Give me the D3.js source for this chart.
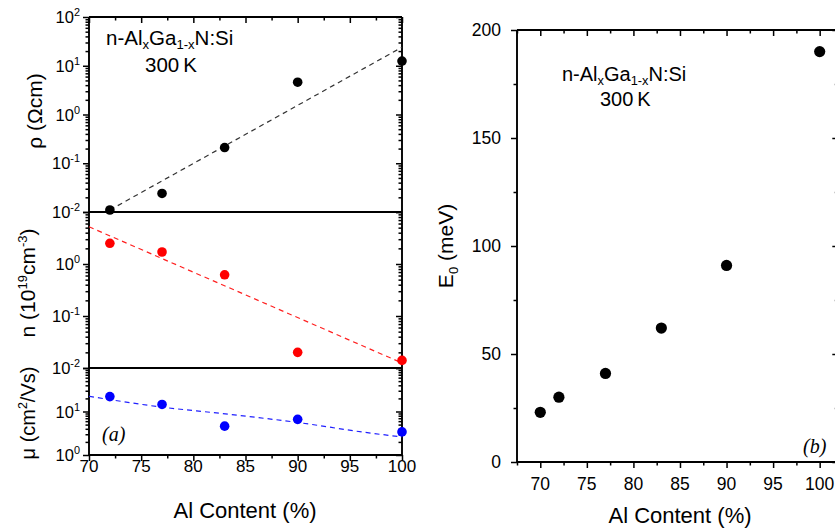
<!DOCTYPE html>
<html>
<head>
<meta charset="utf-8">
<script src="https://cdn.jsdelivr.net/npm/d3@7"></script>
<style>
  body { margin: 0; background: #fff; }
  svg { display: block; }
  text { font-family: Arial, "Liberation Sans", sans-serif; fill: #000; }
  .ital { font-family: "Liberation Serif", "Times New Roman", serif; font-style: italic; }
</style>
</head>
<body>
<svg id="chart" width="835" height="528"></svg>
<script>
// --- data ---
const alContent = [72, 77, 83, 90, 100];
const resistivity = [0.011, 0.024, 0.21, 4.6, 12.5];   // Ohm cm
const carrierConc = [2.5, 1.7, 0.62, 0.02, 0.014];     // 1e19 cm^-3
const mobility = [22, 14.5, 4.6, 6.6, 3.4];            // cm2/Vs

// fit lines (dashed)
const rhoFitX = [72, 100];
const rhoFitY = [0.011, 24];
const nFitX = [70, 100];
const nFitY = [5.2, 0.0125];
const muFitX = [70, 77, 82.5, 90, 96.5, 100];
const muFitY = [22.4, 12.6, 9.1, 5.6, 3.3, 2.6];

// panel (b)
const e0Al = [70, 72, 77, 83, 90, 100];
const e0 = [23, 30, 41, 62, 91, 190];                  // meV

// ticks
const xTicks = [70, 75, 80, 85, 90, 95, 100];
const rhoExp = [2, 1, 0, -1, -2];
const nExp = [0, -1, -2];
const muExp = [1, 0];
const e0Ticks = [0, 50, 100, 150, 200];

const svg = d3.select('#chart');

// draw tick marks only (no domain, no labels) with a d3 axis
function ticks(g, axisFn, scale, values, size, transform) {
  g.append('g')
    .attr('transform', transform)
    .call(axisFn(scale).tickValues(values).tickSize(size).tickFormat(''))
    .call((s) => s.select('.domain').remove())
    .selectAll('line')
    .attr('stroke', '#000')
    .attr('stroke-width', 1.5);
}

function logMinor(scale) {
  return scale.ticks().filter((v) => Math.abs(Math.log10(v) - Math.round(Math.log10(v))) > 1e-6);
}

function pow10Label(g, x, y, e, size) {
  const t = g.append('text')
    .attr('x', x)
    .attr('y', y)
    .attr('text-anchor', 'end')
    .style('font-size', size + 'px');
  t.append('tspan').text('10');
  t.append('tspan').attr('dy', -7).style('font-size', (size * 0.66) + 'px').text(e);
}

function frameLine(g, x1, y1, x2, y2) {
  g.append('line')
    .attr('x1', x1).attr('y1', y1).attr('x2', x2).attr('y2', y2)
    .attr('stroke', '#000').attr('stroke-width', 1.9);
}

// ================= panel (a) =================
const ga = svg.append('g');
const xa = d3.scaleLinear().domain([70, 100]).range([89, 402]);
const yRho = d3.scaleLog().domain([1e-2, 1e2]).range([212, 17]);
const yN = d3.scaleLog().domain([1e-2, 1e1]).range([368, 212]);
const yMu = d3.scaleLog().domain([1, 1e2]).range([455, 368]);

const xMinor = d3.range(70, 100.1, 2.5).filter((v) => !xTicks.includes(v));

// x ticks bottom (out) and top (in)
ticks(ga, d3.axisBottom, xa, xTicks, 6, 'translate(0,455)');
ticks(ga, d3.axisBottom, xa, xMinor, 3.5, 'translate(0,455)');
ticks(ga, d3.axisBottom, xa, xTicks, 6, 'translate(0,17)');
ticks(ga, d3.axisBottom, xa, xMinor, 3.5, 'translate(0,17)');

// y ticks for the three stacked log axes, left (out) and right (in)
[yRho, yN, yMu].forEach((sc) => {
  const major = sc.ticks().filter((v) => !logMinor(sc).includes(v));
  [89, 402].forEach((px) => {
    ticks(ga, d3.axisLeft, sc, major, 6, `translate(${px},0)`);
    ticks(ga, d3.axisLeft, sc, logMinor(sc), 3.5, `translate(${px},0)`);
  });
});

// frame + separators
frameLine(ga, 89, 17, 402, 17);
frameLine(ga, 89, 455, 402, 455);
frameLine(ga, 89, 17, 89, 455);
frameLine(ga, 402, 17, 402, 455);
frameLine(ga, 89, 212, 402, 212);
frameLine(ga, 89, 368, 402, 368);

// tick labels
xTicks.forEach((v) => {
  ga.append('text').attr('x', xa(v)).attr('y', 472)
    .attr('text-anchor', 'middle').style('font-size', '17px').text(v);
});
rhoExp.forEach((e) => pow10Label(ga, 80, yRho(Math.pow(10, e)) + 6, e, 16.5));
nExp.forEach((e) => pow10Label(ga, 80, yN(Math.pow(10, e)) + 6, e, 16.5));
muExp.forEach((e) => pow10Label(ga, 80, yMu(Math.pow(10, e)) + 6, e, 16.5));

// fits
const lineA = (ysc, curve) => d3.line().x((d) => xa(d[0])).y((d) => ysc(d[1])).curve(curve || d3.curveLinear);
ga.append('path').datum(d3.zip(rhoFitX, rhoFitY)).attr('d', lineA(yRho))
  .attr('fill', 'none').attr('stroke', '#333').attr('stroke-width', 1.2).attr('stroke-dasharray', '5,4');
ga.append('path').datum(d3.zip(nFitX, nFitY)).attr('d', lineA(yN))
  .attr('fill', 'none').attr('stroke', '#ff2020').attr('stroke-width', 1.2).attr('stroke-dasharray', '5,4');
ga.append('path').datum(d3.zip(muFitX, muFitY)).attr('d', lineA(yMu, d3.curveMonotoneX))
  .attr('fill', 'none').attr('stroke', '#2020ff').attr('stroke-width', 1.2).attr('stroke-dasharray', '5,4');

// points
function dots(g, xs, ys, xsc, ysc, color, r) {
  g.selectAll(null).data(d3.zip(xs, ys)).enter().append('circle')
    .attr('cx', (d) => xsc(d[0])).attr('cy', (d) => ysc(d[1]))
    .attr('r', r).attr('fill', color);
}
dots(ga, alContent, resistivity, xa, yRho, '#000', 4.8);
dots(ga, alContent, carrierConc, xa, yN, '#ff0000', 4.8);
dots(ga, alContent, mobility, xa, yMu, '#0000ff', 4.8);

// axis titles
function vTitle(g, x, y, size, build) {
  const t = g.append('text')
    .attr('transform', `translate(${x},${y}) rotate(-90)`)
    .attr('text-anchor', 'middle').style('font-size', size + 'px');
  build(t, size);
}
vTitle(ga, 42, 111, 21, (t) => t.text('\u03c1 (\u03a9cm)'));
vTitle(ga, 35, 283, 21, (t, s) => {
  t.append('tspan').text('n (10');
  t.append('tspan').attr('dy', -8).style('font-size', (s * 0.62) + 'px').text('19');
  t.append('tspan').attr('dy', 8).text('cm');
  t.append('tspan').attr('dy', -8).style('font-size', (s * 0.62) + 'px').text('-3');
  t.append('tspan').attr('dy', 8).text(')');
});
vTitle(ga, 35, 413, 20, (t, s) => {
  t.append('tspan').text('\u03bc (cm');
  t.append('tspan').attr('dy', -8).style('font-size', (s * 0.62) + 'px').text('2');
  t.append('tspan').attr('dy', 8).text('/Vs)');
});
ga.append('text').attr('x', 245).attr('y', 518).attr('text-anchor', 'middle')
  .style('font-size', '22px').text('Al Content (%)');

// annotation
function alloyLabel(g, x, y, size) {
  const t = g.append('text').attr('x', x).attr('y', y).style('font-size', size + 'px');
  const sub = size * 0.64;
  t.append('tspan').text('n-Al');
  t.append('tspan').attr('dy', 4).style('font-size', sub + 'px').text('x');
  t.append('tspan').attr('dy', -4).text('Ga');
  t.append('tspan').attr('dy', 4).style('font-size', sub + 'px').text('1-x');
  t.append('tspan').attr('dy', -4).text('N:Si');
}
alloyLabel(ga, 106, 45, 20.5);
ga.append('text').attr('x', 145).attr('y', 72).style('font-size', '20.5px').text('300\u2009K');
ga.append('text').attr('class', 'ital').attr('x', 102).attr('y', 441).style('font-size', '20px').text('(a)');

// ================= panel (b) =================
const gb = svg.append('g');
const xb = d3.scaleLinear().domain([67.5, 102]).range([517, 838.3]);
const yb = d3.scaleLinear().domain([0, 200]).range([462, 30]);
const xbMinor = d3.range(67.5, 102, 2.5).filter((v) => !xTicks.includes(v));
const ybMinor = [25, 75, 125, 175];

ticks(gb, d3.axisBottom, xb, xTicks, 6, 'translate(0,462)');
ticks(gb, d3.axisBottom, xb, xbMinor, 3.5, 'translate(0,462)');
ticks(gb, d3.axisBottom, xb, xTicks, 6, 'translate(0,30)');
ticks(gb, d3.axisBottom, xb, xbMinor, 3.5, 'translate(0,30)');
[517, 838.3].forEach((px) => {
  ticks(gb, d3.axisLeft, yb, e0Ticks, 6, `translate(${px},0)`);
  ticks(gb, d3.axisLeft, yb, ybMinor, 3.5, `translate(${px},0)`);
});

frameLine(gb, 517, 30, 838.3, 30);
frameLine(gb, 517, 462, 838.3, 462);
frameLine(gb, 517, 30, 517, 462);
frameLine(gb, 838.3, 30, 838.3, 462);

xTicks.forEach((v) => {
  gb.append('text').attr('x', xb(v)).attr('y', 490)
    .attr('text-anchor', 'middle').style('font-size', '17.5px').text(v);
});
e0Ticks.forEach((v) => {
  gb.append('text').attr('x', 501).attr('y', yb(v) + 6)
    .attr('text-anchor', 'end').style('font-size', '17.5px').text(v);
});

dots(gb, e0Al, e0, xb, yb, '#000', 5.6);

vTitle(gb, 453, 246, 21, (t, s) => {
  t.append('tspan').text('E');
  t.append('tspan').attr('dy', 5).style('font-size', (s * 0.62) + 'px').text('0');
  t.append('tspan').attr('dy', -5).text(' (meV)');
});
gb.append('text').attr('x', 680).attr('y', 523).attr('text-anchor', 'middle')
  .style('font-size', '22px').text('Al Content (%)');

alloyLabel(gb, 562, 81, 20);
gb.append('text').attr('x', 600).attr('y', 106).style('font-size', '20px').text('300\u2009K');
gb.append('text').attr('class', 'ital').attr('x', 803).attr('y', 453).style('font-size', '20px').text('(b)');
</script>
</body>
</html>
